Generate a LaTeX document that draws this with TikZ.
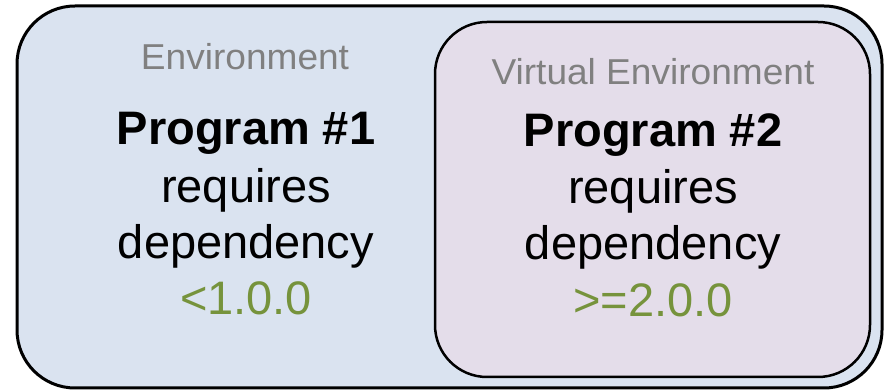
\documentclass[tikz,border=0pt]{standalone}
\usepackage{fontspec}
\setmainfont{Liberation Sans}
\usepackage{xcolor}
\usepackage{tikz}

\definecolor{envblue}{HTML}{DAE3F0}
\definecolor{venvpurple}{HTML}{E4DDEA}
\definecolor{labelgray}{HTML}{808080}
\definecolor{versiongreen}{HTML}{76933C}

\begin{document}
\begin{tikzpicture}[x=1pt, y=1pt,
    envlabel/.style={text=labelgray, font=\fontsize{36}{40}\selectfont, xscale=1.03, anchor=base, inner sep=0pt},
    progline/.style={font=\fontsize{47}{52}\selectfont, anchor=base, inner sep=0pt}]
    \useasboundingbox (0,0) rectangle (887,391);

    % Outer box - Environment
    \draw[line width=3pt, fill=envblue, rounded corners=58pt] (17,3) rectangle (882,385);
    \node[envlabel] (envlbl) at (245,321) {Environment};
    \node[progline] (prog1) at (246,246) {\textbf{Program \#1}};
    \node[progline] (req1) at (246,188) {requires};
    \node[progline] (dep1) at (246,132) {dependency};
    \node[progline, text=versiongreen] (ver1) at (246,76) {<1.0.0};

    % Inner box - Virtual Environment
    \draw[line width=2.5pt, fill=venvpurple, rounded corners=52pt] (435,14) rectangle (870,369);
    \node[envlabel] (venvlbl) at (653,306) {Virtual Environment};
    \node[progline] (prog2) at (653,244) {\textbf{Program \#2}};
    \node[progline] (req2) at (653,187) {requires};
    \node[progline] (dep2) at (653,131) {dependency};
    \node[progline, text=versiongreen] (ver2) at (653,74) {>=2.0.0};
\end{tikzpicture}
\end{document}
